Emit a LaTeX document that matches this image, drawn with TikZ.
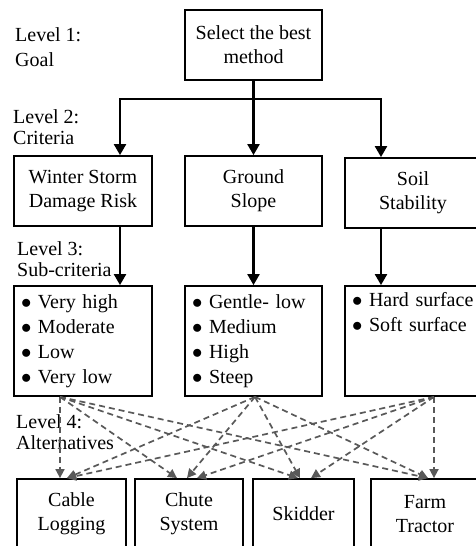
\documentclass[tikz,border=0pt]{standalone}
\usepackage{fontspec}
\setmainfont{Liberation Serif}
\usetikzlibrary{calc,positioning,arrows.meta}

\tikzset{
  box/.style={draw, line width=1.8pt, inner sep=0pt, align=center, font=\fontsize{20}{24}\selectfont},
  sub/.style={box, align=left, inner xsep=7pt, font=\fontsize{20}{25}\selectfont},
  lvl/.style={anchor=west, align=left, inner sep=0pt, font=\fontsize{20}{21}\selectfont},
  arr/.style={line width=2.2pt, -{Triangle[length=11pt,width=12pt]}},
  alt/.style={gray!70!black, line width=1.7pt, dash pattern=on 6pt off 4pt, -{Triangle[length=9pt,width=9pt]}}
}
\newcommand{\bul}{\makebox[17pt][l]{$\bullet$}}

\begin{document}
\begin{tikzpicture}[x=1pt,y=-1pt]
\useasboundingbox (0,0) rectangle (476,546);
\clip (0,0) rectangle (476,546);

% Level labels on the left
\node[lvl, font=\fontsize{20}{25}\selectfont] (l1) at (15,47) {Level 1:\\Goal};
\node[lvl] (l2) at (13,127) {Level 2:\\Criteria};
\node[lvl] (l3) at (17,259) {Level 3:\\Sub-criteria};
\node[lvl] (l4) at (16,432) {Level 4:\\Alternatives};

% Goal
\node[box, minimum width=137pt, minimum height=70pt] (g) at (253.5,45) {Select the best\\method};

% Criteria
\node[box, minimum width=138pt, minimum height=70pt] (c1) at (83,191) {Winter Storm\\Damage Risk};
\node[box, minimum width=137pt, minimum height=70pt] (c2) at (253.5,191) {Ground\\Slope};
\node[box, minimum width=136pt, minimum height=70pt] (c3) at (413,193) {Soil\\Stability};

% Sub-criteria
\node[sub, text width=124pt, minimum height=110pt] (s1) at (83,341)
  {\bul Very high\\\bul Moderate\\\bul Low\\\bul Very low};
\node[sub, text width=123pt, minimum height=110pt] (s2) at (253.5,341)
  {\bul Gentle- low\\\bul Medium\\\bul High\\\bul Steep};
\node[sub, text width=122pt, minimum height=110pt] (s3) at (413,341)
  {\bul Hard surface\\\bul Soft surface\\\strut\\\strut};

% Alternatives
\node[box, minimum width=109pt, minimum height=70pt] (a1) at (71.5,514) {Cable\\Logging};
\node[box, minimum width=108pt, minimum height=70pt] (a2) at (189,514) {Chute\\System};
\node[box, minimum width=101pt, minimum height=70pt] (a3) at (303.5,514) {Skidder};
\node[box, minimum width=108pt, minimum height=70pt] (a4) at (425,514) {Farm\\Tractor};

% Goal to criteria
\coordinate (j) at (253.5,99);
\draw[line width=2.2pt] (g) -- (j);
\draw[arr] (j) -| ([xshift=37pt]c1.north);
\draw[arr] (j) -- (c2.north);
\draw[arr] (j) -| ([xshift=-32pt]c3.north);

% Criteria to sub-criteria
\draw[arr] ([xshift=37pt]c1.south) -- ([xshift=37pt]s1.north);
\draw[arr] (c2.south) -- (s2.north);
\draw[arr] ([xshift=-32pt]c3.south) -- ([xshift=-32pt]s3.north);

% Sub-criteria to alternatives
\coordinate (p1) at ([xshift=-23pt]s1.south);
\coordinate (p2) at ([xshift=1.5pt]s2.south);
\coordinate (p3) at ([xshift=21pt]s3.south);

\draw[alt] (p1) -- ([xshift=-11.5pt]a1.north);
\draw[alt] (p1) -- ([xshift=-12pt]a2.north);
\draw[alt] (p1) -- ([xshift=-5.5pt]a3.north);
\draw[alt] (p1) -- ([xshift=3pt]a4.north);

\draw[alt] (p2) -- ([xshift=-4.5pt]a1.north);
\draw[alt] (p2) -- ([xshift=-2pt]a2.north);
\draw[alt] (p2) -- ([xshift=-3.5pt]a3.north);
\draw[alt] (p2) -- ([xshift=3pt]a4.north);

\draw[alt] (p3) -- ([xshift=-4.5pt]a1.north);
\draw[alt] (p3) -- ([xshift=8pt]a2.north);
\draw[alt] (p3) -- ([xshift=7.5pt]a3.north);
\draw[alt] (p3) -- ([xshift=9pt]a4.north);

\end{tikzpicture}
\end{document}
